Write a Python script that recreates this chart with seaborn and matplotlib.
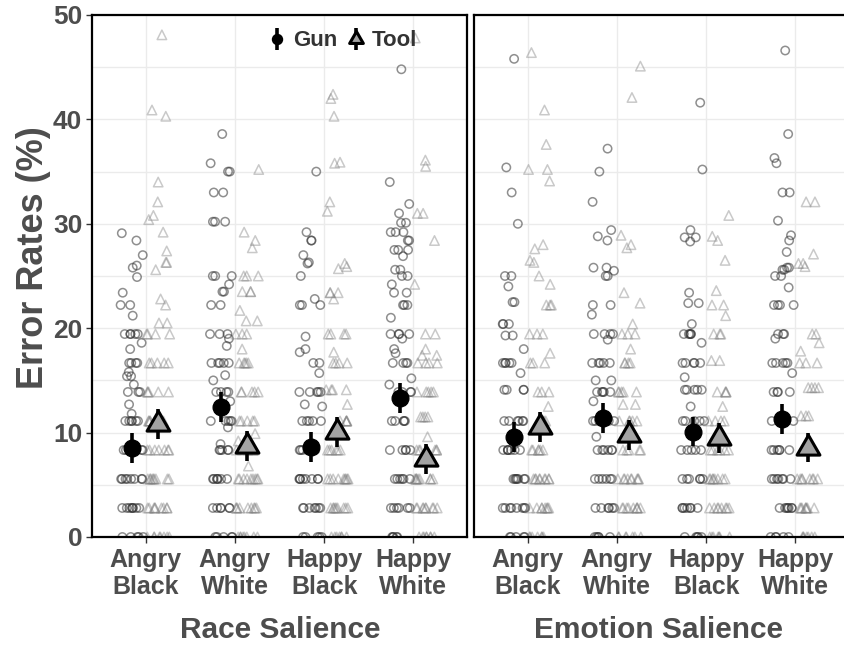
import numpy as np
import pandas as pd
import matplotlib
matplotlib.use("Agg")
import matplotlib.pyplot as plt
from matplotlib.path import Path
from matplotlib.ticker import MultipleLocator
import seaborn as sns

# ---------------- data ----------------
conditions = ["Angry\nBlack", "Angry\nWhite", "Happy\nBlack", "Happy\nWhite"]
objects = ["Gun", "Tool"]
panels = ["Race Salience", "Emotion Salience"]

# condition means and 95% CI half widths (error rate, %)
race_gun_mean = [8.5, 12.45, 8.6, 13.3]
race_tool_mean = [10.85, 8.75, 10.05, 7.5]
emo_gun_mean = [9.6, 11.4, 10.1, 11.3]
emo_tool_mean = [10.55, 9.75, 9.45, 8.55]
race_gun_ci = [1.45, 1.45, 1.42, 1.45]
race_tool_ci = [1.45, 1.45, 1.45, 1.45]
emo_gun_ci = [1.42, 1.40, 1.42, 1.40]
emo_tool_ci = [1.45, 1.45, 1.45, 1.40]

# individual participants' error rates: (value, number of participants)
race_gun_AB = [(0, 5), (2.78, 8), (5.56, 8), (8.33, 6), (11.11, 6), (11.8, 1), (12.7, 1), (13.89, 3), (14.6, 1),
               (15.4, 2), (15.8, 1), (16.67, 4), (18.0, 1), (18.6, 1), (19.44, 5), (21.2, 1), (22.22, 2), (23.4, 1),
               (24.9, 1), (25.8, 1), (26.0, 1), (27.0, 1), (28.4, 1), (29.1, 1)]
race_tool_AB = [(0, 8), (2.78, 9), (5.56, 9), (8.33, 7), (11.11, 6), (13.89, 5), (16.67, 5), (19.44, 4), (20.5, 2),
                (22.22, 1), (22.8, 1), (25.6, 1), (26.3, 2), (27.4, 1), (29.2, 1), (30.4, 1), (30.8, 1), (32.1, 1),
                (34.0, 1), (40.3, 1), (40.9, 1), (48.1, 1)]
race_gun_AW = [(0, 5), (2.78, 6), (5.56, 7), (8.33, 5), (8.9, 1), (10.5, 1), (11.11, 5), (13.0, 1), (13.89, 4),
               (15.0, 1), (15.5, 1), (16.67, 5), (18.3, 1), (19.0, 1), (19.44, 3), (22.22, 2), (23.5, 2), (24.2, 1),
               (25.0, 3), (30.2, 3), (33.0, 2), (35.0, 2), (35.8, 1), (38.6, 1)]
race_tool_AW = [(0, 8), (2.78, 9), (5.56, 9), (6.8, 1), (8.33, 6), (9.2, 1), (9.9, 1), (11.11, 5), (13.89, 5),
                (16.67, 5), (18.0, 1), (19.44, 3), (20.7, 2), (21.7, 1), (23.5, 3), (25.0, 3), (27.7, 1), (28.4, 1),
                (29.2, 1), (35.2, 1)]
race_gun_HB = [(0, 5), (2.78, 7), (5.56, 8), (8.33, 6), (11.11, 5), (12.5, 1), (12.7, 1), (13.89, 5), (15.7, 1),
               (16.67, 2), (17.7, 1), (18.0, 1), (19.2, 1), (22.22, 3), (22.8, 1), (25.0, 1), (26.2, 1), (26.3, 1),
               (27.0, 1), (28.4, 2), (29.2, 1), (35.0, 1)]
race_tool_HB = [(0, 7), (2.78, 9), (5.56, 9), (8.33, 6), (11.11, 5), (12.7, 1), (14.1, 4), (16.67, 4), (17.7, 1),
                (19.44, 4), (22.8, 1), (23.4, 3), (25.7, 1), (25.9, 1), (26.2, 1), (31.2, 1), (32.1, 1), (35.8, 1),
                (35.9, 1), (40.3, 1), (42.0, 1), (42.4, 1)]
race_gun_HW = [(0, 5), (2.78, 6), (5.56, 6), (8.33, 5), (11.11, 5), (13.89, 4), (14.6, 1), (15.2, 1), (16.67, 4),
               (17.6, 1), (18.0, 1), (19.0, 1), (19.44, 4), (21.0, 1), (22.22, 3), (23.4, 2), (24.2, 1), (25.0, 2),
               (25.6, 2), (26.9, 1), (27.5, 3), (28.4, 2), (29.2, 3), (30.1, 2), (31.0, 1), (31.9, 1), (34.0, 1),
               (44.8, 1)]
race_tool_HW = [(0, 8), (2.78, 9), (5.56, 9), (8.33, 6), (9.6, 1), (11.5, 4), (13.89, 5), (16.67, 4), (17.4, 2),
                (18.0, 1), (19.44, 2), (24.2, 1), (28.4, 1), (31.0, 2), (35.5, 1), (36.1, 1), (47.8, 1)]

emo_gun_AB = [(0, 5), (2.78, 8), (5.56, 7), (8.33, 7), (11.11, 6), (14.1, 4), (15.7, 1), (16.67, 5), (18.0, 1),
              (19.3, 2), (20.4, 3), (22.5, 2), (24.0, 1), (25.0, 2), (30.0, 1), (33.0, 1), (35.4, 1), (45.8, 1)]
emo_tool_AB = [(0, 7), (2.78, 8), (5.56, 9), (8.33, 6), (11.11, 4), (12.5, 1), (13.89, 3), (16.67, 3), (17.6, 1),
               (19.44, 3), (22.22, 3), (24.2, 1), (25.0, 1), (26.3, 1), (26.5, 1), (27.6, 1), (28.0, 1), (34.1, 1),
               (35.2, 2), (37.6, 1), (40.9, 1), (46.4, 1)]
emo_gun_AW = [(0, 5), (2.78, 6), (5.56, 6), (8.33, 6), (9.6, 1), (11.11, 5), (13.0, 1), (13.89, 5), (15.0, 2),
              (16.67, 5), (18.9, 1), (19.44, 4), (21.3, 1), (22.22, 2), (25.0, 2), (25.5, 1), (25.8, 2), (28.4, 1),
              (28.8, 1), (29.4, 1), (32.1, 1), (35.0, 1), (37.2, 1)]
emo_tool_AW = [(0, 7), (2.78, 9), (5.56, 9), (8.33, 5), (11.11, 5), (12.7, 2), (13.89, 5), (16.67, 4), (18.0, 1),
               (19.44, 3), (20.4, 1), (22.4, 1), (23.4, 1), (27.7, 1), (28.0, 1), (28.9, 1), (42.1, 1), (45.1, 1)]
emo_gun_HB = [(0, 5), (2.78, 7), (5.56, 6), (8.33, 5), (11.11, 5), (12.5, 1), (14.1, 5), (15.3, 1), (16.67, 5),
              (18.6, 1), (19.44, 5), (20.4, 1), (22.4, 2), (23.4, 1), (28.3, 1), (28.7, 2), (29.4, 1), (35.2, 1),
              (41.6, 1)]
emo_tool_HB = [(0, 7), (2.78, 8), (5.56, 8), (8.33, 6), (9.2, 1), (11.11, 4), (12.5, 1), (13.89, 4), (16.9, 2),
               (19.44, 3), (21.2, 1), (22.22, 2), (23.6, 1), (26.5, 1), (28.4, 1), (28.8, 1), (30.8, 1)]
emo_gun_HW = [(0, 5), (2.78, 7), (5.56, 7), (8.33, 6), (11.11, 4), (13.89, 4), (15.7, 1), (16.67, 5), (19.0, 1),
              (19.44, 3), (22.22, 4), (23.9, 1), (25.0, 2), (25.6, 2), (25.8, 2), (27.3, 1), (28.4, 1), (28.9, 1),
              (30.3, 1), (33.0, 2), (35.8, 1), (36.3, 1), (38.6, 1), (46.6, 1)]
emo_tool_HW = [(0, 7), (2.78, 8), (5.56, 8), (8.33, 6), (11.6, 3), (14.3, 4), (16.67, 3), (17.8, 1), (18.6, 1),
               (19.44, 2), (25.9, 1), (26.2, 2), (27.1, 1), (32.1, 2)]

raw = {
    ("Race Salience", "Gun"): [race_gun_AB, race_gun_AW, race_gun_HB, race_gun_HW],
    ("Race Salience", "Tool"): [race_tool_AB, race_tool_AW, race_tool_HB, race_tool_HW],
    ("Emotion Salience", "Gun"): [emo_gun_AB, emo_gun_AW, emo_gun_HB, emo_gun_HW],
    ("Emotion Salience", "Tool"): [emo_tool_AB, emo_tool_AW, emo_tool_HB, emo_tool_HW],
}
summary = {
    ("Race Salience", "Gun"): (race_gun_mean, race_gun_ci),
    ("Race Salience", "Tool"): (race_tool_mean, race_tool_ci),
    ("Emotion Salience", "Gun"): (emo_gun_mean, emo_gun_ci),
    ("Emotion Salience", "Tool"): (emo_tool_mean, emo_tool_ci),
}

rows = []
for (panel, obj), groups in raw.items():
    for cond, grp in zip(conditions, groups):
        for val, n in grp:
            rows += [{"panel": panel, "object": obj, "condition": cond, "rate": val}] * n
df = pd.DataFrame(rows)

# ---------------- style ----------------
sns.set_theme(style="white")
plt.rcParams["font.family"] = ["Liberation Sans", "DejaVu Sans"]
plt.rcParams["font.weight"] = "bold"
TXT = "#4d4d4d"

# centroid-centred triangle (like R's pch 24)
TRI = Path([(0, 1.555), (1.347, -0.778), (-1.347, -0.778), (0, 1.555)],
           [Path.MOVETO, Path.LINETO, Path.LINETO, Path.CLOSEPOLY])

W, H = 844, 650
fig = plt.figure(figsize=(W / 100, H / 100), dpi=100)


def rect(l, t, r, b):
    return [l / W, 1 - b / H, (r - l) / W, (b - t) / H]


axL = fig.add_axes(rect(92, 15, 467, 537))
axR = fig.add_axes(rect(474, 15, 849, 537))

np.random.seed(7)
dodge = {"Gun": -0.15, "Tool": 0.14}
pt_style = {
    "Gun": dict(marker="o", size=6.0, edge=(0.2, 0.2, 0.2, 0.55)),
    "Tool": dict(marker="^", size=6.8, edge=(0.5, 0.5, 0.5, 0.42)),
}
handles = {}
for ax, panel in zip([axL, axR], panels):
    sub = df[df["panel"] == panel]
    for obj in objects:
        st = pt_style[obj]
        n0 = len(ax.collections)
        sns.stripplot(data=sub[sub["object"] == obj], x="condition", y="rate", order=conditions,
                      jitter=0.13, size=st["size"], marker=st["marker"], color="gray",
                      linewidth=1, ax=ax)
        for c in ax.collections[n0:]:
            off = c.get_offsets().copy()
            off[:, 0] += dodge[obj]
            c.set_offsets(off)
            c.set_facecolor("none")
            c.set_edgecolor(st["edge"])
            c.set_linewidth(1.1)
            c.set_zorder(2)
    xs = np.arange(len(conditions))
    m, ci = summary[(panel, "Gun")]
    handles["Gun"] = ax.errorbar(xs + dodge["Gun"], m, yerr=ci, fmt="o", ms=12, color="black",
                                 ecolor="black", elinewidth=2.6, capsize=0, zorder=5)
    m, ci = summary[(panel, "Tool")]
    handles["Tool"] = ax.errorbar(xs + dodge["Tool"], m, yerr=ci, marker=TRI, linestyle="none", ms=19,
                                  mfc="#a3a3a3", mec="black", mew=2.2, ecolor="black",
                                  elinewidth=2.6, capsize=0, zorder=5)

    ax.set_xlim(-0.6, 3.6)
    ax.set_ylim(0, 50)
    ax.yaxis.set_major_locator(MultipleLocator(10))
    ax.yaxis.set_minor_locator(MultipleLocator(5))
    ax.set_xticks(xs)
    ax.set_xticklabels(conditions, fontsize=18, color=TXT, fontweight="bold", linespacing=1.15)
    ax.grid(True, which="both", axis="y", color="#ebebeb", lw=1)
    ax.grid(True, which="major", axis="x", color="#ebebeb", lw=1)
    ax.set_axisbelow(True)
    ax.set_xlabel("")
    ax.set_ylabel("")
    for s in ax.spines.values():
        s.set_visible(True)
        s.set_color("black")
        s.set_linewidth(1.6)
    ax.tick_params(axis="x", which="major", length=4, width=1, color="#333333", pad=4, bottom=True)
    ax.tick_params(axis="y", which="minor", length=0)
    ax.tick_params(axis="y", which="major", length=4, width=1, color="#333333", pad=3,
                   labelsize=19, labelcolor=TXT, left=True)
    for lab in ax.get_yticklabels():
        lab.set_fontweight("bold")

axR.tick_params(axis="y", which="both", left=False, labelleft=False)

leg = axL.legend([handles["Gun"], handles["Tool"]], objects, loc="center",
                 bbox_to_anchor=(343 / W, 1 - 41 / H), bbox_transform=fig.transFigure,
                 ncol=2, frameon=False, fontsize=16, markerscale=0.6, handlelength=0.7,
                 handletextpad=0.35, columnspacing=0.5)
for t in leg.get_texts():
    t.set_color("#333333")
    t.set_fontweight("bold")

fig.text(280 / W, 1 - 630 / H, panels[0], ha="center", va="center", fontsize=21.5,
         color=TXT, fontweight="bold")
fig.text(658 / W, 1 - 630 / H, panels[1], ha="center", va="center", fontsize=21.5,
         color=TXT, fontweight="bold")
fig.text(34 / W, 1 - 258 / H, "Error Rates (%)", rotation=90, ha="center", va="center",
         fontsize=26, color=TXT, fontweight="bold")

fig.savefig("out.png", dpi=100)
